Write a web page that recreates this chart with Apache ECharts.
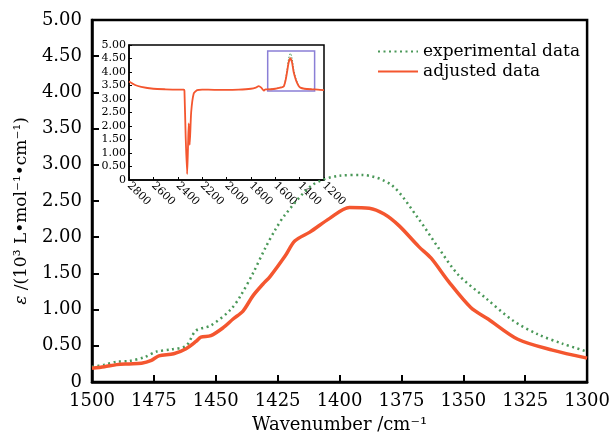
<!DOCTYPE html>
<html><head><meta charset="utf-8">
<script src="https://cdn.jsdelivr.net/npm/echarts@6/dist/echarts.min.js"></script>
<style>html,body{margin:0;padding:0;background:#fff}#c{width:613px;height:439px}</style>
</head><body><div id="c"></div>
<script>
// Main plot: wavenumber (cm^-1) and epsilon values
const adjWave = [1500,1495,1490,1485,1480,1476,1473,1467,1462,1458,1456,1452,1447,1443,1439,1435,1431,1428,1422,1418,1412,1404,1396,1388,1382,1376,1368,1363,1356,1347,1340,1328,1314,1300];
const adjVal  = [0.19,0.21,0.24,0.25,0.26,0.30,0.36,0.39,0.46,0.56,0.62,0.64,0.75,0.87,0.98,1.19,1.35,1.46,1.74,1.95,2.07,2.26,2.41,2.40,2.32,2.16,1.87,1.71,1.39,1.03,0.87,0.59,0.44,0.33];
const expWave = [1500,1495,1490,1485,1479,1474,1468,1462,1458,1452,1444,1440,1435,1430,1426,1422,1411,1400,1391,1379,1368,1360,1352,1341,1330,1320,1310,1300];
const expVal  = [0.21,0.24,0.28,0.29,0.34,0.42,0.45,0.50,0.71,0.78,1.00,1.19,1.50,1.85,2.10,2.31,2.72,2.85,2.86,2.72,2.25,1.85,1.48,1.16,0.85,0.66,0.53,0.42];
// Inset: full spectrum
const insWave = [2800,2750,2700,2600,2500,2400,2350,2345,2335,2323,2316,2310,2302,2290,2269,2241,2200,2100,2000,1900,1800,1760,1736,1715,1695,1680,1662,1600,1560,1531,1515,1503,1490,1476,1462,1449,1430,1410,1394,1360,1300,1250,1200];
const insVal  = [3.65,3.52,3.45,3.38,3.36,3.35,3.35,3.30,1.60,0.22,1.20,2.10,1.30,2.50,3.20,3.33,3.35,3.34,3.34,3.35,3.38,3.42,3.48,3.42,3.31,3.36,3.36,3.38,3.42,3.46,3.70,4.00,4.35,4.51,4.35,4.00,3.70,3.50,3.42,3.38,3.36,3.35,3.33];
const insExpWave = [1662,1600,1560,1531,1515,1503,1490,1476,1462,1449,1430,1410,1394,1360,1300,1250];
const insExpVal  = [3.36,3.38,3.43,3.48,3.75,4.10,4.50,4.69,4.50,4.10,3.75,3.52,3.43,3.38,3.36,3.35];
const boxRange = {x0:1662, x1:1277, y0:3.30, y1:4.78};

const zip = (a,b)=>a.map((v,i)=>[v,b[i]]);
const F = 'DejaVu Serif';
const chart = echarts.init(document.getElementById('c'), null, {renderer:'canvas'});
chart.setOption({
  animation:false,
  backgroundColor:'#fff',
  textStyle:{fontFamily:F,color:'#000'},
  grid:[
    {left:92, top:20, width:497, height:365, show:true, borderColor:'#000', borderWidth:2.5, containLabel:false},
    {left:129, top:45, width:195, height:135, show:true, borderColor:'#000', borderWidth:1.5, containLabel:false}
  ],
  legend:{
    left:372, top:38, orient:'vertical', itemWidth:40, itemHeight:12, itemGap:3,
    itemStyle:{opacity:0},
    textStyle:{fontFamily:F, fontSize:17, color:'#000'},
    data:['experimental data','adjusted data']
  },
  xAxis:[
    {gridIndex:0, type:'value', min:1300, max:1500, interval:25, inverse:true,
     axisLine:{show:true, lineStyle:{color:'#000', width:2.5}},
     axisTick:{inside:true, length:7, lineStyle:{color:'#000', width:2}},
     axisLabel:{fontFamily:F, fontSize:18, color:'#000', margin:10, formatter:v=>String(v)},
     splitLine:{show:false},
     name:'Wavenumber /cm⁻¹', nameLocation:'middle', nameGap:34,
     nameTextStyle:{fontFamily:F, fontSize:18, color:'#000'}},
    {gridIndex:1, type:'value', min:1200, max:2800, interval:200, inverse:true,
     axisLine:{show:true, lineStyle:{color:'#000', width:1.5}},
     axisTick:{inside:true, length:3, lineStyle:{color:'#000', width:1}},
     axisLabel:{fontFamily:F, fontSize:11, color:'#000', margin:4, rotate:-45, formatter:v=>String(v)},
     splitLine:{show:false}}
  ],
  yAxis:[
    {gridIndex:0, type:'value', min:0, max:5, interval:0.5,
     axisLine:{show:true, lineStyle:{color:'#000', width:2.5}},
     axisTick:{inside:true, length:7, lineStyle:{color:'#000', width:2}},
     axisLabel:{fontFamily:F, fontSize:18, color:'#000', margin:10, formatter:v=>v===0?'0':v.toFixed(2)},
     splitLine:{show:false},
     name:'{i|ε} /(10³ L•mol⁻¹•cm⁻¹)', nameLocation:'middle', nameGap:62, nameRotate:90,
     nameTextStyle:{fontFamily:F, fontSize:17, color:'#000', padding:[0,20,0,0], rich:{i:{fontFamily:F, fontStyle:'italic', fontSize:17}}}},
    {gridIndex:1, type:'value', min:0, max:5, interval:0.5,
     axisLine:{show:true, lineStyle:{color:'#000', width:1.5}},
     axisTick:{inside:true, length:3, lineStyle:{color:'#000', width:1}},
     axisLabel:{fontFamily:F, fontSize:11, color:'#000', margin:3, formatter:v=>v===0?'0':v.toFixed(2)},
     splitLine:{show:false}}
  ],
  series:[
    {name:'experimental data', type:'line', xAxisIndex:0, yAxisIndex:0, data:zip(expWave,expVal),
     symbol:'none', smooth:0.3, lineStyle:{color:'#4a9858', width:2.5, type:[2,3.5]}, itemStyle:{color:'#4a9858'}, z:2},
    {name:'adjusted data', type:'line', xAxisIndex:0, yAxisIndex:0, data:zip(adjWave,adjVal),
     symbol:'none', smooth:0.3, lineStyle:{color:'#f4562f', width:3.5}, itemStyle:{color:'#f4562f'}, z:3},
    {name:'experimental data', type:'line', xAxisIndex:1, yAxisIndex:1, data:zip(insExpWave,insExpVal),
     symbol:'none', smooth:0.3, lineStyle:{color:'#4a9858', width:1, type:[1.5,1.5]}, z:2},
    {name:'adjusted data', type:'line', xAxisIndex:1, yAxisIndex:1, data:zip(insWave,insVal),
     symbol:'none', smooth:0.2, lineStyle:{color:'#f4562f', width:1.8}, z:3,
     markArea:{silent:true, itemStyle:{color:'rgba(0,0,0,0)', borderColor:'#8a7fd6', borderWidth:1.5},
       data:[[{coord:[boxRange.x0, boxRange.y1]},{coord:[boxRange.x1, boxRange.y0]}]]}}
  ]
});
</script></body></html>
